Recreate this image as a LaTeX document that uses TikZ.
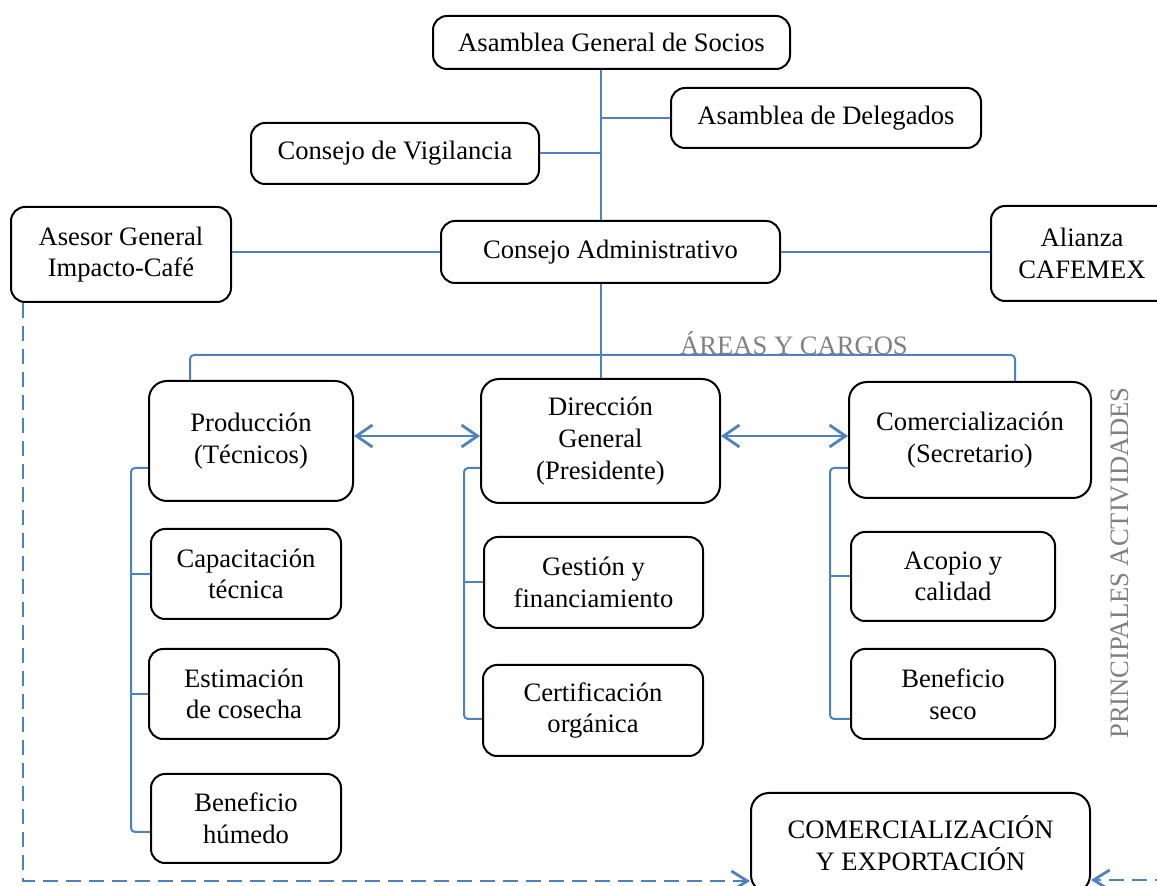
\documentclass[tikz,border=0pt]{standalone}
\usepackage{fontspec}
\setmainfont{Liberation Serif}
\usetikzlibrary{arrows.meta}
\definecolor{azul}{RGB}{79,129,189}
\definecolor{gris}{RGB}{128,128,128}
\begin{document}
\begin{tikzpicture}[x=0.5pt,y=-0.5pt]
% styles
\tikzset{caja/.style={draw, line width=1pt, rounded corners=7pt, align=center, inner sep=0pt,
  font=\fontsize{13.3pt}{15.8pt}\selectfont},
rama/.style={azul, line width=1pt, rounded corners=2pt},
punteada/.style={azul, line width=1.4pt, dash pattern=on 7.5pt off 4pt, -{Straight Barb[length=8pt,width=10pt]}},
flecha/.style={azul, line width=1.4pt, {Straight Barb[length=8pt,width=11pt]}-{Straight Barb[length=8pt,width=11pt]}},
letrero/.style={gris, font=\fontsize{13.3pt}{15.8pt}\selectfont}}
\useasboundingbox (0,0) rectangle (1157,886);
% top level
\node (asamblea) at (611.5,42.5) [caja, minimum width=178.5pt, minimum height=26.5pt] {Asamblea General de Socios};
\node (delegados) at (826,118) [caja, minimum width=155pt, minimum height=30pt] {Asamblea de Delegados};
\node (vigilancia) at (395,153.5) [caja, minimum width=144pt, minimum height=30.5pt] {Consejo de Vigilancia};
\node (consejo) at (610.5,252) [caja, minimum width=169.5pt, minimum height=31pt] {Consejo Administrativo};
\node (asesor) at (121,254.5) [caja, minimum width=110pt, minimum height=47.5pt] {Asesor General\\Impacto-Café};
\node (alianza) at (1082,253.5) [caja, minimum width=91pt, minimum height=47.5pt] {Alianza\\CAFEMEX};
% areas
\node (produccion) at (251,441) [caja, rounded corners=9pt, minimum width=102pt, minimum height=60pt] {Producción\\(Técnicos)};
\node (direccion) at (600.5,441) [caja, rounded corners=9pt, minimum width=119.5pt, minimum height=62pt] {Dirección\\General\\(Presidente)};
\node (comercial) at (970,440) [caja, rounded corners=9pt, minimum width=121pt, minimum height=58pt] {Comercialización\\(Secretario)};
% activities
\node (capacitacion) at (246,574) [caja, minimum width=95pt, minimum height=45pt] {Capacitación\\técnica};
\node (estimacion) at (244,694) [caja, minimum width=95pt, minimum height=45pt] {Estimación\\de cosecha};
\node (humedo) at (246,818.5) [caja, minimum width=95pt, minimum height=44.5pt] {Beneficio\\húmedo};
\node (gestion) at (593.5,582.5) [caja, minimum width=109.5pt, minimum height=45.5pt] {Gestión y\\financiamiento};
\node (certificacion) at (593,710.5) [caja, minimum width=110pt, minimum height=45.5pt] {Certificación\\orgánica};
\node (acopio) at (953,576.5) [caja, minimum width=102pt, minimum height=44.5pt] {Acopio y\\calidad};
\node (seco) at (953,694) [caja, minimum width=102pt, minimum height=45pt] {Beneficio\\seco};
\node (exportacion) at (920.5,843) [caja, rounded corners=9pt, minimum width=169.5pt, minimum height=50pt] {COMERCIALIZACIÓN\\Y EXPORTACIÓN};
% labels
\node (areas) at (794,355) [letrero, anchor=base] {ÁREAS Y CARGOS};
\node (actividades) at (1128,563) [letrero, rotate=90, anchor=base] {PRINCIPALES ACTIVIDADES};
% trunk
\draw[rama] (asamblea.south -| direccion.north) -- (consejo.north -| direccion.north);
\draw[rama] (consejo.south -| direccion.north) -- (direccion.north);
\draw[rama] (delegados.west) -- (delegados.west -| direccion.north);
\draw[rama] (vigilancia.east) -- (vigilancia.east -| direccion.north);
\draw[rama] (consejo.west) -- (consejo.west -| asesor.east);
\draw[rama] (consejo.east) -- (consejo.east -| alianza.west);
% bracket over the areas
\coordinate (areaL) at (190,355);
\coordinate (areaR) at (1015,355);
\draw[rama] (produccion.north -| areaL) -- (areaL) -- (areaR) -- (comercial.north -| areaR);
\draw[flecha] ([yshift=2.5pt]produccion.east) -- ([yshift=2.5pt]direccion.west);
\draw[flecha] ([yshift=2.5pt]direccion.east) -- ([yshift=2pt]comercial.west);
% columns
\coordinate (ejeP) at (131,468); \coordinate (finP) at (131,832);
\coordinate (ejeD) at (464,468); \coordinate (finD) at (464,719);
\coordinate (ejeC) at (830,468); \coordinate (finC) at (830,719);
\draw[rama] (produccion.west |- ejeP) -- (ejeP) -- (finP) -- (humedo.west |- finP);
\draw[rama] (direccion.west |- ejeD) -- (ejeD) -- (finD) -- (certificacion.west |- finD);
\draw[rama] (comercial.west |- ejeC) -- (ejeC) -- (finC) -- (seco.west |- finC);
\foreach \n in {capacitacion,estimacion} {
\draw[rama] (\n.west) -- (\n.west -| ejeP);
}
\draw[rama] (gestion.west) -- (gestion.west -| ejeD);
\draw[rama] (acopio.west) -- (acopio.west -| ejeC);
% dashed arrows
\coordinate (esq) at (23,881);
\coordinate (borde) at (1170,880);
\draw[punteada] (asesor.south -| esq) -- (esq) -- (exportacion.west |- esq);
\draw[punteada] (borde) -- (exportacion.east |- borde);
\end{tikzpicture}
\end{document}
